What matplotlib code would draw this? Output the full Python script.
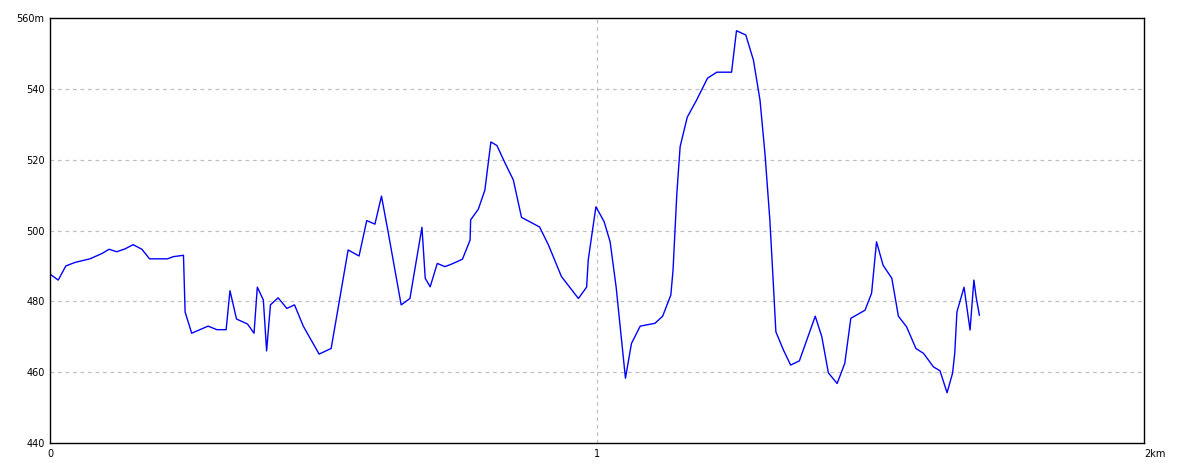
import matplotlib
matplotlib.use("Agg")
import matplotlib.pyplot as plt

# distance (km) and elevation (m)
dist_km = [0.000, 0.015, 0.029, 0.046, 0.073, 0.095, 0.108, 0.122, 0.137, 0.152,
           0.168, 0.182, 0.215, 0.225, 0.244, 0.247, 0.259, 0.289, 0.305, 0.322,
           0.329, 0.341, 0.361, 0.373, 0.379, 0.390, 0.396, 0.403, 0.417, 0.433,
           0.447, 0.463, 0.492, 0.514, 0.545, 0.565, 0.579, 0.594, 0.606, 0.618,
           0.642, 0.658, 0.680, 0.686, 0.695, 0.708, 0.722, 0.734, 0.754, 0.768,
           0.769, 0.783, 0.795, 0.806, 0.817, 0.832, 0.847, 0.862, 0.895, 0.911,
           0.935, 0.966, 0.981, 0.984, 0.998, 1.013, 1.024, 1.035, 1.052, 1.063,
           1.079, 1.106, 1.120, 1.135, 1.139, 1.146, 1.152, 1.165, 1.182, 1.202,
           1.219, 1.246, 1.255, 1.272, 1.286, 1.298, 1.307, 1.316, 1.322, 1.327,
           1.341, 1.354, 1.370, 1.399, 1.411, 1.423, 1.439, 1.453, 1.464, 1.490,
           1.502, 1.511, 1.523, 1.539, 1.551, 1.566, 1.583, 1.597, 1.615, 1.627,
           1.640, 1.650, 1.654, 1.658, 1.671, 1.682, 1.689, 1.693, 1.699]
elev_m = [487.7, 486.0, 490.0, 491.0, 492.0, 493.5, 494.7, 494.0, 494.8, 496.0,
          494.7, 492.0, 492.0, 492.6, 493.0, 477.0, 471.0, 473.0, 472.0, 472.0,
          483.0, 475.0, 473.6, 471.0, 484.0, 480.4, 466.0, 479.0, 481.0, 478.0,
          479.0, 473.0, 465.1, 466.7, 494.5, 492.8, 502.8, 501.8, 509.7, 499.7,
          479.0, 480.8, 500.9, 486.5, 484.1, 490.7, 489.8, 490.5, 491.9, 497.3,
          503.0, 506.0, 511.4, 525.0, 524.0, 519.0, 514.3, 503.7, 501.0, 496.0,
          487.0, 480.8, 484.0, 491.7, 506.7, 502.5, 496.8, 484.0, 458.3, 468.1,
          473.0, 473.8, 475.8, 481.8, 488.8, 510.5, 523.7, 532.0, 536.8, 543.0,
          544.7, 544.7, 556.4, 555.2, 548.1, 536.8, 521.8, 503.0, 486.0, 471.4,
          466.2, 462.0, 463.2, 475.8, 470.0, 459.8, 456.8, 462.5, 475.2, 477.5,
          482.3, 496.8, 490.2, 486.5, 475.8, 472.8, 466.7, 465.3, 461.5, 460.4,
          454.2, 459.7, 465.3, 477.0, 484.0, 471.9, 486.0, 481.3, 476.1]

x_ticks = [0, 1, 2]
x_tick_labels = ["0", "1", "2km"]
y_ticks = [440, 460, 480, 500, 520, 540, 560]
y_tick_labels = ["440", "460", "480", "500", "520", "540", "560m"]

fig = plt.figure(figsize=(11.84, 4.73), dpi=100)
ax = fig.add_axes([50 / 1184, 1 - 443 / 473, 1094 / 1184, 425 / 473])

ax.plot(dist_km, elev_m, color="#0000ff", linewidth=1.0)

ax.set_xlim(0, 2)
ax.set_ylim(440, 560)

# grid lines (interior only)
for y in y_ticks[1:-1]:
    ax.axhline(y, color="#c0c0c0", linestyle=(0, (3, 3)), linewidth=0.9, zorder=0)
for x in x_ticks[1:-1]:
    ax.axvline(x, color="#c0c0c0", linestyle=(0, (3, 3)), linewidth=0.9, zorder=0)

ax.set_xticks(x_ticks)
ax.set_xticklabels(x_tick_labels, fontsize=7)
ax.set_yticks(y_ticks)
ax.set_yticklabels(y_tick_labels, fontsize=7)
ax.tick_params(length=0, pad=4)
labels = ax.get_xticklabels()
labels[-1].set_horizontalalignment("left")

for s in ax.spines.values():
    s.set_color("black")
    s.set_linewidth(1.0)

fig.savefig("out.png", dpi=100)
